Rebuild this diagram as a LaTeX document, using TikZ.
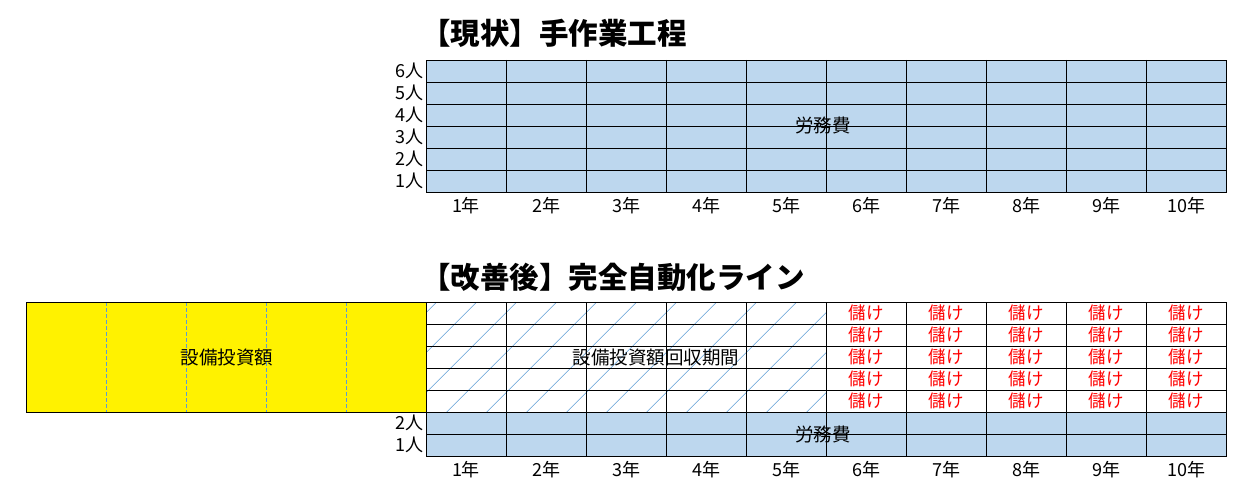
\documentclass[tikz,border=0pt]{standalone}
\usepackage{fontspec}
\newfontfamily\jp{Noto Sans CJK JP}
\definecolor{cellblue}{HTML}{BDD7EE}
\definecolor{hatchblue}{HTML}{5B9BD5}
\definecolor{moneyred}{HTML}{FF0000}
\tikzset{
  gridline/.style={draw=black,line width=0.9pt},
  titletext/.style={anchor=west,inner sep=0pt,font=\jp\bfseries\fontsize{29.5}{30}\selectfont},
  axistext/.style={inner sep=0pt,font=\jp\fontsize{18}{19}\selectfont},
  celltext/.style={inner sep=0pt,font=\jp\fontsize{18.5}{19}\selectfont},
  redtext/.style={inner sep=0pt,text=moneyred,font=\jp\fontsize{17.5}{18}\selectfont},
  hatchline/.style={draw=hatchblue,line width=0.6pt},
  yeardash/.style={draw=hatchblue,line width=0.7pt,dash pattern=on 4pt off 2pt}
}
\begin{document}
\begin{tikzpicture}[x=1pt,y=-1pt]
\useasboundingbox (0,0) rectangle (1240,495);
% ---------- top chart ----------
\node[titletext] (title1) at (421,33) {【現状】手作業工程};
\fill[cellblue] (426,60) rectangle (1226,192);
\foreach \r in {82,104,126,148,170}
  \draw[gridline] (426,\r) -- (1226,\r);
\foreach \c in {506,586,...,1146}
  \draw[gridline] (\c,60) -- (\c,192);
\draw[gridline] (426,60) rectangle (1226,192);
\foreach \k in {1,...,6}
  \node[axistext,anchor=east] (top\k) at (424,{192-22*(\k-1)-11}) {\k 人};
\foreach \i in {1,...,10}
  \node[axistext] (topyear\i) at ({466+80*(\i-1)},206) {\i 年};
\node[celltext] (labor1) at (823,125) {労務費};
% ---------- bottom chart ----------
\node[titletext] (title2) at (421,277) {【改善後】完全自動化ライン};
% yellow investment block
\fill[yellow] (26,302) rectangle (426,412);
\foreach \c in {106,186,266,346}
  \draw[yeardash] (\c,302) -- (\c,412);
\draw[gridline] (26,302) rectangle (426,412);
\node[celltext] (invest) at (227,357) {設備投資額};
% hatched payback area
\begin{scope}
  \clip (426,302) rectangle (826,412);
  \foreach \b in {326.7,366.7,...,830}
    \draw[hatchline] (\b,412) -- ++(110,-110);
\end{scope}
% blue labor rows
\fill[cellblue] (426,412) rectangle (1226,456);
\foreach \r in {324,346,368,390,412,434}
  \draw[gridline] (426,\r) -- (1226,\r);
\foreach \c in {506,586,...,1146}
  \draw[gridline] (\c,302) -- (\c,456);
\draw[gridline] (426,302) rectangle (1226,456);
\node[celltext] (payback) at (656,358) {設備投資額回収期間};
\node[celltext] (labor2) at (823,434) {労務費};
\foreach \i in {6,...,10}
  \foreach \j in {1,...,5}
    \node[redtext] (profit\i-\j) at ({466+80*(\i-1)},{302+22*(\j-1)+11}) {儲け};
\node[axistext,anchor=east] (bot2) at (424,423) {2人};
\node[axistext,anchor=east] (bot1) at (424,445) {1人};
\foreach \i in {1,...,10}
  \node[axistext] (botyear\i) at ({466+80*(\i-1)},470) {\i 年};
\end{tikzpicture}
\end{document}
